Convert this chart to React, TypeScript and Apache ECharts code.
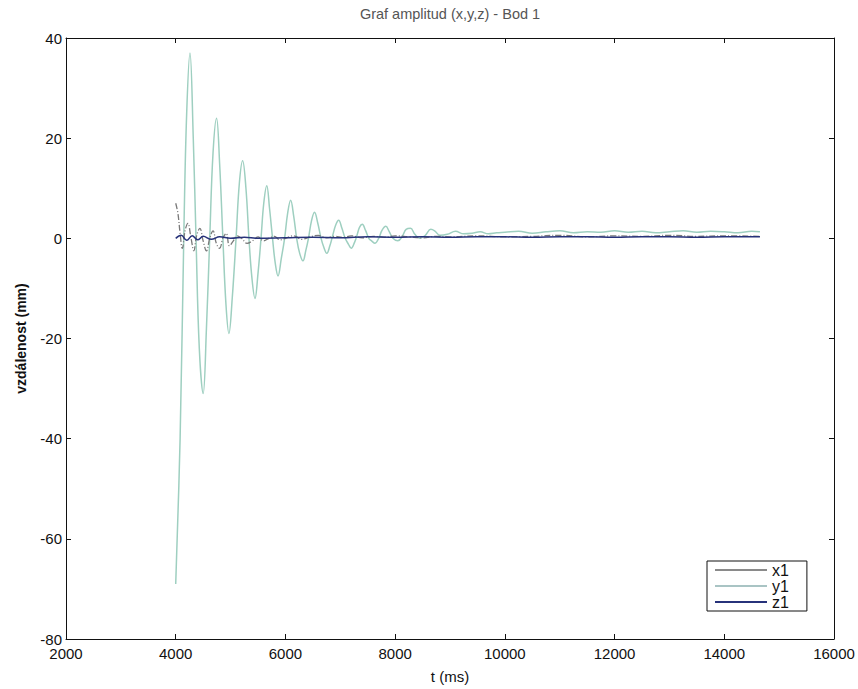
import React, { useEffect, useRef } from "react";
import * as echarts from "echarts";

const titleText = "Graf amplitud (x,y,z) - Bod 1";
const xName = "t (ms)";
const yName = "vzdálenost (mm)";
const seriesNames = ["x1", "y1", "z1"];

// y1: large damped oscillation
const tY1 = [4000, 4080, 4150, 4200, 4260, 4320, 4370, 4430, 4500, 4560, 4620, 4680, 4745, 4800, 4860, 4915, 4970, 5030, 5100, 5160, 5220, 5280, 5335, 5390, 5445, 5500, 5555, 5605, 5660, 5710, 5765, 5815, 5865, 5925, 5985, 6040, 6095, 6150, 6205, 6260, 6320, 6370, 6420, 6475, 6530, 6590, 6650, 6700, 6755, 6810, 6860, 6915, 6970, 7030, 7090, 7150, 7200, 7260, 7310, 7350, 7400, 7460, 7520, 7580, 7630, 7700, 7760, 7830, 7890, 7960, 8050, 8130, 8200, 8280, 8360, 8450, 8550, 8650, 8720, 8820, 8950, 9100, 9250, 9400, 9550, 9700, 9850, 10000, 10250, 10500, 10750, 11000, 11250, 11500, 11750, 12000, 12250, 12500, 12750, 13000, 13250, 13500, 13750, 14000, 14250, 14500, 14650];
const vY1 = [-69, -40, 2, 25, 37, 20, 0, -22, -31, -18, 0, 17, 24, 15, 0, -13, -19, -12, 0, 11, 15.5, 10, 0, -8, -12, -7, 0, 7, 10.5, 6, 0, -5, -7.5, -4, 0, 5, 7.6, 4.5, 0, -3, -4.5, -2.5, 0, 3.5, 5.2, 3, 0, -1.8, -3, -1.5, 0.5, 2.6, 3.6, 2, 0, -1.2, -2, -0.8, 0.8, 2.2, 2.8, 1.6, 0, -0.6, -1, 0, 1.6, 2.4, 1.4, 0, -0.5, 0.4, 1.8, 2, 0.8, 0, 0.6, 1.8, 1.5, 0.6, 0.8, 1.4, 0.9, 1.0, 1.3, 0.9, 1.1, 1.2, 1.4, 1.0, 1.3, 1.5, 1.1, 1.3, 1.2, 1.5, 1.2, 1.4, 1.1, 1.3, 1.5, 1.2, 1.4, 1.3, 1.1, 1.4, 1.3];

// x1: small wiggles around zero
const tX1 = [4000, 4040, 4080, 4120, 4170, 4220, 4280, 4330, 4380, 4440, 4500, 4560, 4620, 4680, 4740, 4800, 4860, 4920, 4980, 5050, 5120, 5200, 5300, 5400, 5500, 5600, 5700, 5800, 5900, 6000, 6150, 6300, 6450, 6600, 6750, 6900, 7050, 7200, 7400, 7600, 7800, 8000, 8250, 8500, 8750, 9000, 9500, 10000, 10500, 11000, 11500, 12000, 12500, 13000, 13500, 14000, 14650];
const vX1 = [7, 5, 1, -2, 1.5, 3, 0, -2.5, 0.5, 2, -0.5, -2.5, 0, 1.5, -1, -2, 0, 1, -1.5, -0.5, 0.5, 0, -1, -0.5, 0.3, -0.5, 0, 0.4, -0.3, 0, 0.5, -0.2, 0.3, 0.6, 0.1, 0.4, 0.2, 0.5, 0.1, 0.4, 0.2, 0.5, 0.3, 0.1, 0.4, 0.3, 0.5, 0.3, 0.4, 0.6, 0.3, 0.5, 0.4, 0.6, 0.4, 0.5, 0.4];

// z1: near-flat line slightly above zero
const tZ1 = [4000, 4100, 4200, 4300, 4400, 4500, 4650, 4800, 5000, 5250, 5500, 6000, 6500, 7000, 7500, 8000, 8500, 9000, 9500, 10000, 10500, 11000, 11500, 12000, 12500, 13000, 13500, 14000, 14650];
const vZ1 = [0, 0.6, -0.4, 0.5, -0.3, 0.4, -0.2, 0.3, 0, 0.2, 0, 0.1, 0.2, 0.1, 0.3, 0.2, 0.3, 0.2, 0.3, 0.3, 0.2, 0.3, 0.3, 0.2, 0.3, 0.3, 0.2, 0.3, 0.3];

const xTicks = { min: 2000, max: 16000, interval: 2000 };
const yTicks = { min: -80, max: 40, interval: 20 };

const zip = (t: number[], v: number[]) => t.map((x, i) => [x, v[i]]);

const FONT = "'Liberation Sans', Arial, sans-serif";

export default function App() {
  const ref = useRef<HTMLDivElement>(null);
  useEffect(() => {
    const chart = echarts.init(ref.current!, null, { renderer: "svg" });
    const axisLine = { show: true, onZero: false, lineStyle: { color: "#111", width: 1 } };
    const tick = { show: true, inside: true, length: 5, lineStyle: { color: "#111" } };
    chart.setOption({
      animation: false,
      backgroundColor: "#fff",
      grid: { left: 66, right: 24, top: 38, bottom: 46, containLabel: false },
      graphic: [
        {
          type: "text",
          x: 450,
          y: 6,
          style: { text: titleText, fill: "#555", font: `14.5px ${FONT}`, textAlign: "center" },
        },
      ],
      legend: {
        data: seriesNames,
        orient: "vertical",
        left: 707,
        top: 561,
        align: "left",
        icon: "rect",
        backgroundColor: "#fff",
        borderColor: "#111",
        borderWidth: 1,
        borderRadius: 0,
        padding: [1, 18, 1, 8],
        itemWidth: 52,
        itemHeight: 2,
        itemGap: 0,
        textStyle: { color: "#111", fontSize: 16, fontFamily: FONT, lineHeight: 15 },
      },
      xAxis: [
        {
          type: "value",
          ...xTicks,
          name: xName,
          nameLocation: "middle",
          nameGap: 30,
          nameTextStyle: { color: "#111", fontSize: 15, fontFamily: FONT },
          axisLine,
          axisTick: tick,
          splitLine: { show: false },
          axisLabel: {
            color: "#111",
            fontSize: 15,
            fontFamily: FONT,
            margin: 7,
            formatter: (v: number) => String(v),
          },
        },
        {
          type: "value",
          position: "top",
          ...xTicks,
          axisLine,
          axisTick: tick,
          splitLine: { show: false },
          axisLabel: { show: false },
        },
      ],
      yAxis: [
        {
          type: "value",
          ...yTicks,
          name: yName,
          nameLocation: "middle",
          nameGap: 38,
          nameTextStyle: { color: "#111", fontSize: 14, fontWeight: "bold", fontFamily: FONT },
          axisLine,
          axisTick: tick,
          splitLine: { show: false },
          axisLabel: { color: "#111", fontSize: 15, fontFamily: FONT, margin: 4 },
        },
        {
          type: "value",
          position: "right",
          ...yTicks,
          axisLine,
          axisTick: tick,
          splitLine: { show: false },
          axisLabel: { show: false },
        },
      ],
      series: [
        {
          name: "x1",
          type: "line",
          data: zip(tX1, vX1),
          smooth: 0.4,
          symbol: "none",
          lineStyle: { color: "#7a7a7a", width: 1.3, type: [6, 2, 1, 2] },
          itemStyle: { color: "#8a8a8a" },
          z: 3,
        },
        {
          name: "y1",
          type: "line",
          data: zip(tY1, vY1),
          smooth: 0.4,
          symbol: "none",
          lineStyle: { color: "#9ecfc0", width: 1.5 },
          itemStyle: { color: "#a9c4c4" },
          z: 2,
        },
        {
          name: "z1",
          type: "line",
          data: zip(tZ1, vZ1),
          smooth: 0.4,
          symbol: "none",
          lineStyle: { color: "#27327a", width: 1.5 },
          itemStyle: { color: "#27327a" },
          z: 4,
        },
      ],
    });
    return () => chart.dispose();
  }, []);
  return (
    <div
      ref={ref}
      style={{ position: "fixed", left: 0, top: 0, width: 858, height: 689, background: "#fff" }}
    />
  );
}
